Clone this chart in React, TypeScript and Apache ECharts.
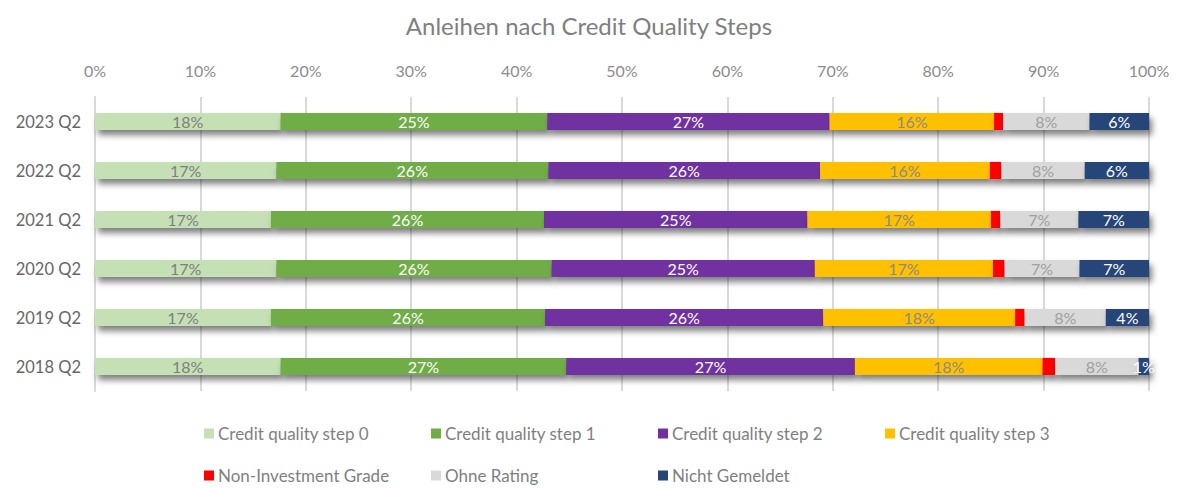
import React, { useEffect, useRef } from "react";
import * as echarts from "echarts";

const categories = ["2023 Q2", "2022 Q2", "2021 Q2", "2020 Q2", "2019 Q2", "2018 Q2"];
const seriesNames = [
  "Credit quality step 0",
  "Credit quality step 1",
  "Credit quality step 2",
  "Credit quality step 3",
  "Non-Investment Grade",
  "Ohne Rating",
  "Nicht Gemeldet",
];
const step0 = [17.6, 17.2, 16.7, 17.2, 16.7, 17.6];
const step1 = [25.3, 25.8, 25.9, 26.1, 26.0, 27.1];
const step2 = [26.8, 25.8, 25.0, 25.0, 26.4, 27.4];
const step3 = [15.6, 16.1, 17.4, 16.9, 18.2, 17.8];
const nonInvest = [0.85, 1.1, 0.9, 1.1, 0.9, 1.2];
const ohneRating = [8.2, 7.9, 7.4, 7.1, 7.7, 7.9];
const nichtGemeldet = [5.8, 6.1, 6.7, 6.6, 4.1, 1.0];
const xTicks = [0, 10, 20, 30, 40, 50, 60, 70, 80, 90, 100];

const colors = ["#c5e0b4", "#70ad47", "#7030a0", "#ffc000", "#ff0000", "#d9d9d9", "#264478"];
const labelColors = ["#7f7f7f", "#ffffff", "#ffffff", "#8a8a8a", null, "#a0a0a0", "#ffffff"];
const FONT = "Lato, 'Noto Sans', sans-serif";

export default function App() {
  const ref = useRef<HTMLDivElement>(null);
  useEffect(() => {
    if (!ref.current) return;
    const chart = echarts.init(ref.current, null, { renderer: "svg" });
    const data = [step0, step1, step2, step3, nonInvest, ohneRating, nichtGemeldet];
    const legendLefts = [199, 426, 653, 880, 199, 426, 653];
    const legendTops = [420, 420, 420, 420, 462, 462, 462];
    const option: any = {
      animation: false,
      backgroundColor: "#ffffff",
      textStyle: { fontFamily: FONT },
      title: {
        text: "Anleihen nach Credit Quality Steps",
        left: "center",
        top: 8,
        textStyle: { fontFamily: FONT, fontSize: 24, fontWeight: "normal", color: "#7f7f7f" },
      },
      legend: seriesNames.map((n, i) => ({
        data: [n],
        left: legendLefts[i],
        top: legendTops[i],
        itemWidth: 10,
        itemHeight: 10,
        itemGap: 0,
        icon: "rect",
        textStyle: { fontFamily: FONT, fontSize: 17, color: "#7f7f7f", padding: [0, 0, 0, -1] },
      })),
      grid: { left: 95, right: 29, top: 97, bottom: 97, containLabel: false },
      xAxis: {
        type: "value",
        position: "top",
        min: 0,
        max: 100,
        interval: 10,
        axisLine: { show: false },
        axisTick: { show: false },
        axisLabel: { formatter: "{value}%", color: "#8c8c8c", fontSize: 16, fontFamily: FONT, margin: 19 },
        splitLine: { lineStyle: { color: "#d9d9d9", width: 2 } },
      },
      yAxis: {
        type: "category",
        data: categories,
        inverse: true,
        axisLine: { show: true, lineStyle: { color: "#d9d9d9", width: 2 } },
        axisTick: { show: false },
        axisLabel: { color: "#666666", fontSize: 16.5, fontFamily: FONT, margin: 14 },
      },
      series: seriesNames.map((n, i) => ({
        name: n,
        type: "bar",
        stack: "total",
        barWidth: "35%",
        data: data[i],
        itemStyle: {
          color: colors[i],
          shadowColor: "rgba(0,0,0,0.5)",
          shadowBlur: 6,
          shadowOffsetX: 3,
          shadowOffsetY: 5,
        },
        label: {
          show: labelColors[i] !== null,
          position: "inside",
          formatter: (p: any) => Math.round(p.value) + "%",
          color: labelColors[i] || "#fff",
          fontSize: 16,
          fontFamily: FONT,
        },
      })),
    };
    chart.setOption(option);
    return () => chart.dispose();
  }, []);
  return (
    <div
      ref={ref}
      style={{ position: "fixed", left: 0, top: 0, width: 1178, height: 488 }}
    />
  );
}
